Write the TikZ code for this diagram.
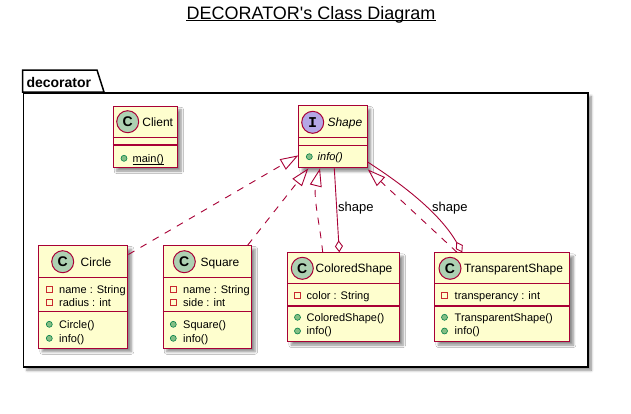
\documentclass[tikz,border=0pt]{standalone}
\usepackage{fontspec}
\setmainfont{Liberation Sans}
\setmonofont{Liberation Mono}
\usetikzlibrary{arrows.meta,calc,shadows.blur}
\definecolor{plred}{HTML}{A80036}
\definecolor{plfill}{HTML}{FEFECE}
\definecolor{plC}{HTML}{ADD1B2}
\definecolor{plI}{HTML}{B4A7E5}
\definecolor{plpriv}{HTML}{C82930}
\definecolor{plpubf}{HTML}{84BE84}
\definecolor{plpubd}{HTML}{038048}
\newcommand\privicon[2]{\draw[plpriv, line width=0.8pt] (#1-3,#2-3) rectangle (#1+3,#2+3);}
\newcommand\pubicon[2]{\draw[plpubd, fill=plpubf, line width=0.6pt] (#1,#2) circle (3pt);}
\tikzset{
  shd/.style={blur shadow={shadow xshift=3.5pt, shadow yshift=-3.5pt, shadow blur steps=6, shadow blur radius=2.5pt, shadow opacity=45}},
  cls/.style={draw=plred, fill=plfill, line width=1.1pt, rectangle, inner sep=0pt, anchor=north west, shd},
  sepline/.style={draw=plred, line width=1.1pt},
  circC/.style={circle, draw=plred, fill=plC, line width=1pt, minimum size=22pt, inner sep=0pt, font=\fontsize{14}{14}\selectfont\bfseries},
  circI/.style={circle, draw=plred, fill=plI, line width=1pt, minimum size=22pt, inner sep=0pt, font=\ttfamily\bfseries\fontsize{15}{15}\selectfont},
  cname/.style={anchor=base west, inner sep=0pt, font=\fontsize{12}{14}\selectfont},
  mem/.style={anchor=base west, inner sep=0pt, font=\fontsize{11}{13}\selectfont},
  lbl/.style={anchor=base west, inner sep=0pt, font=\fontsize{13}{15}\selectfont},
  real/.style={draw=plred, line width=0.9pt, dash pattern=on 7pt off 7pt, -{Triangle[open, length=18pt, width=12pt]}},
  agg/.style={draw=plred, line width=0.9pt, {Diamond[open, length=12pt, width=8pt]}-},
}
\begin{document}
\begin{tikzpicture}[x=1pt,y=-1pt]
\useasboundingbox (0,0) rectangle (631,413);
% title
\node[anchor=base, inner sep=0pt, font=\fontsize{18}{20}\selectfont] (title) at (311,19.3) {DECORATOR\textquotesingle s Class Diagram};
\draw[line width=1pt] ([yshift=-1.5pt]title.base west) -- ([yshift=-1.5pt]title.base east);
% package
\node[draw=black, fill=white, line width=1.5pt, inner sep=0pt, anchor=north west, minimum width=564.3pt, minimum height=274pt, shd] (pkg) at (22.7,92) {};
\draw[line width=1.5pt, fill=white] (pkg.north west) -- (22.7,70) -- (97,70) -- (104,92) -- cycle;
\node[anchor=base west, inner sep=0pt, font=\fontsize{14}{16}\selectfont\bfseries] (pkgname) at (26.3,87) {decorator};
% Client
\node[cls, minimum width=64.3pt, minimum height=61.3pt] (client) at (112.7,105.7) {};
\draw[sepline] (112.7,137.3) -- (177,137.3);
\draw[sepline] (112.7,145) -- (177,145);
\node[circC] (clientC) at (127.7,121.7) {C};
\node[cname] (clientN) at (142.2,126) {Client};
\pubicon{124}{158.3}
\node[mem] (mmain) at (132.5,162.3) {main()};
\draw[line width=0.6pt] ([yshift=-1.5pt]mmain.base west) -- ([yshift=-1.5pt]mmain.base east);
% Shape
\node[cls, minimum width=68.4pt, minimum height=62.3pt] (shape) at (298.3,105) {};
\draw[sepline] (298.3,137.7) -- (366.7,137.7);
\draw[sepline] (298.3,145.7) -- (366.7,145.7);
\node[circI] (shapeI) at (312.7,122.3) {I};
\node[cname, font=\fontsize{12}{14}\selectfont\itshape] (shapeN) at (327.3,126.6) {Shape};
\pubicon{309.3}{156.7}
\node[mem, font=\fontsize{11}{13}\selectfont\itshape] (sinfo) at (317.5,160.6) {info()};
% Circle
\node[cls, minimum width=89pt, minimum height=102.7pt] (circle) at (38.3,245) {};
\draw[sepline] (38.3,277.3) -- (127.3,277.3);
\draw[sepline] (38.3,311.7) -- (127.3,311.7);
\node[circC] (circleC) at (62.7,261.7) {C};
\node[cname] (circleN) at (80.5,266) {Circle};
\privicon{49.3}{289.3}
\node[mem] (cf1) at (59,293.2) {name : String};
\privicon{49.3}{302.7}
\node[mem] (cf2) at (59,306.6) {radius : int};
\pubicon{49.3}{324.3}
\node[mem] (cm1) at (59,328.2) {Circle()};
\pubicon{49.3}{338.3}
\node[mem] (cm2) at (59,342.2) {info()};
% Square
\node[cls, minimum width=88.3pt, minimum height=102.7pt] (square) at (162.7,245) {};
\draw[sepline] (162.7,277.3) -- (251,277.3);
\draw[sepline] (162.7,311.7) -- (251,311.7);
\node[circC] (squareC) at (184.3,261.7) {C};
\node[cname] (squareN) at (200.5,266) {Square};
\privicon{173.3}{289.3}
\node[mem] (sf1) at (183,293.2) {name : String};
\privicon{173.3}{302.7}
\node[mem] (sf2) at (183,306.6) {side : int};
\pubicon{173.3}{324.3}
\node[mem] (sm1) at (183,328.2) {Square()};
\pubicon{173.3}{338.3}
\node[mem] (sm2) at (183,342.2) {info()};
% ColoredShape
\node[cls, minimum width=111.7pt, minimum height=88.7pt] (colored) at (287.3,252.3) {};
\draw[sepline] (287.3,283.3) -- (399,283.3);
\draw[sepline] (287.3,306) -- (399,306);
\node[circC] (coloredC) at (302.3,268.3) {C};
\node[cname] (coloredN) at (315.5,272.6) {ColoredShape};
\privicon{297.5}{295}
\node[mem] (kf1) at (306.5,299) {color : String};
\pubicon{297.5}{317.3}
\node[mem] (km1) at (306.5,321.2) {ColoredShape()};
\pubicon{297.5}{331}
\node[mem] (km2) at (306.5,334.9) {info()};
% TransparentShape
\node[cls, minimum width=135pt, minimum height=88.7pt] (transp) at (434.3,252.3) {};
\draw[sepline] (434.3,283.3) -- (569.3,283.3);
\draw[sepline] (434.3,306) -- (569.3,306);
\node[circC] (transpC) at (450,268.3) {C};
\node[cname] (transpN) at (463.8,272.6) {TransparentShape};
\privicon{444.5}{295}
\node[mem] (tf1) at (454.5,299) {transperancy : int};
\pubicon{444.5}{317.3}
\node[mem] (tm1) at (454.5,321.2) {TransparentShape()};
\pubicon{444.5}{331}
\node[mem] (tm2) at (454.5,334.9) {info()};
% connectors
\draw[real] ($(circle.north east)+(0,9.5)$) -- ($(shape.south west)+(0,-13)$);
\draw[real] ($(square.north east)+(-4.3,0)$) -- ($(shape.south west)+(10,0)$);
\draw[real] ($(colored.north west)+(35.4,0)$) .. controls ($(colored.north west)+(32.7,-27.3)$) and ($(shape.south west)+(14.7,28.7)$) .. ($(shape.south west)+(21.7,0)$);
\draw[agg] ($(colored.north west)+(52,0)$) -- ($(shape.south west)+(36,0)$);
\draw[real] ($(transp.north west)+(22.7,0)$) -- ($(shape.south east)+(0,1)$);
\draw[agg] ($(transp.north west)+(28,0)$) .. controls ($(transp.north west)+(6,-38.3)$) and ($(shape.south east)+(37,17.5)$) .. ($(shape.south east)+(0,-6.3)$);
\node[lbl] (lab1) at (338,211.5) {shape};
\node[lbl] (lab2) at (432,211.5) {shape};
\end{tikzpicture}
\end{document}
